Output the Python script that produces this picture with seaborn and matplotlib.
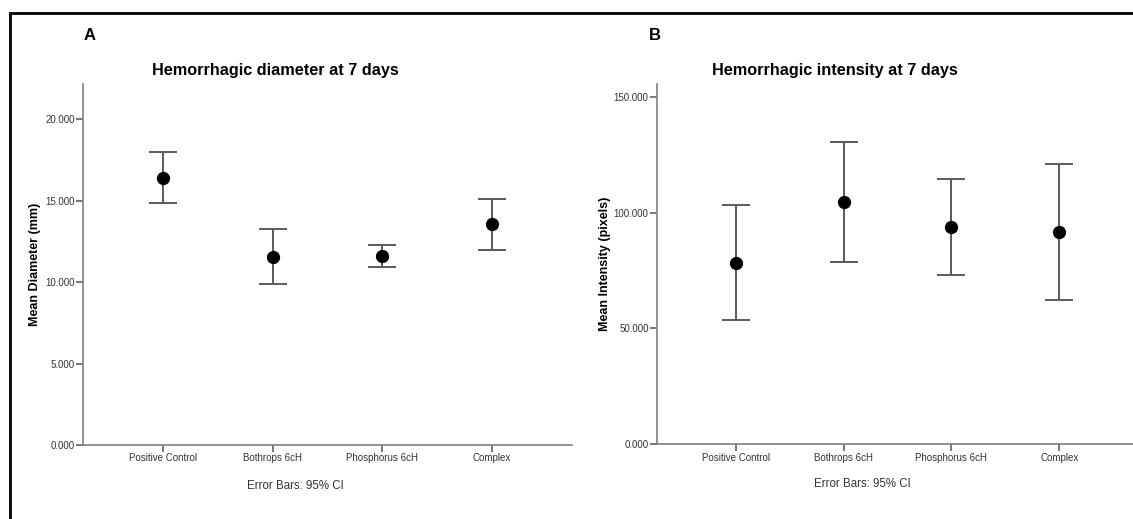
import matplotlib
matplotlib.use("Agg")
import matplotlib.pyplot as plt
from matplotlib.patches import Rectangle
import seaborn as sns
import numpy as np

# --- Data ---
groups = ["Positive Control", "Bothrops 6cH", "Phosphorus 6cH", "Complex"]

diameter_mean = [16.41, 11.53, 11.59, 13.54]
diameter_low = [14.85, 9.85, 10.91, 11.96]
diameter_high = [17.98, 13.23, 12.26, 15.12]

intensity_mean = [78.4, 104.4, 93.8, 91.6]
intensity_low = [53.6, 78.5, 73.2, 62.3]
intensity_high = [103.2, 130.3, 114.4, 121.0]

diameter_ticks = [0, 5, 10, 15, 20]
intensity_ticks = [0, 50, 100, 150]

sns.set_style("white")
plt.rcParams["font.family"] = ["Liberation Sans", "DejaVu Sans"]
plt.rcParams["text.color"] = "black"
plt.rcParams["axes.labelcolor"] = "black"

AXIS_GRAY = "#7f7f7f"
TEXT_GRAY = "#333333"


def draw_panel(ax, means, low, high, ticks, ymax, ylabel, label_x):
    """Mean with 95% CI error bars, SPSS style."""
    x = np.arange(len(groups))
    means = np.array(means)
    yerr = [means - np.array(low), np.array(high) - means]
    ax.errorbar(x, means, yerr=yerr, fmt="none", ecolor="#5a5a5a",
                elinewidth=1.4, capsize=10, capthick=1.4, zorder=2)
    sns.pointplot(x=groups, y=means, ax=ax, color="black", linestyle="none",
                  marker="o", markersize=7.5, errorbar=None, zorder=3)
    ax.set_xlim(-0.73, len(groups) - 1 + 0.73)
    ax.set_ylim(0, ymax)
    ax.set_yticks(ticks)
    ax.set_yticklabels([f"{t:.3f}" for t in ticks], fontsize=7, color=TEXT_GRAY)
    ax.set_xticks(x)
    ax.set_xticklabels(groups, fontsize=7, color=TEXT_GRAY)
    ax.set_xlabel("")
    ax.set_ylabel(ylabel, fontsize=9, fontweight="bold")
    ax.yaxis.set_label_coords(label_x, 0.5)
    for side in ["top", "right"]:
        ax.spines[side].set_visible(False)
    for side in ["left", "bottom"]:
        ax.spines[side].set_color(AXIS_GRAY)
        ax.spines[side].set_linewidth(1.2)
    ax.tick_params(axis="both", direction="out", length=5, width=1.1,
                   color="#555555", pad=1, left=True, bottom=True)
    ax.grid(False)


fig = plt.figure(figsize=(11.33, 5.19), dpi=100)
W, H = 1133, 519

ax_a = fig.add_axes([83 / W, (H - 445) / H, (572 - 83) / W, 361 / H])
ax_b = fig.add_axes([657 / W, (H - 444.3) / H, (1138 - 657) / W, 360.3 / H])

draw_panel(ax_a, diameter_mean, diameter_low, diameter_high,
           diameter_ticks, 22.15, "Mean Diameter (mm)", -0.086)
draw_panel(ax_b, intensity_mean, intensity_low, intensity_high,
           intensity_ticks, 155.5, "Mean Intensity (pixels)", -0.095)

# titles, panel letters, footnotes
fig.text(275 / W, 1 - 70 / H, "Hemorrhagic diameter at 7 days", ha="center",
         va="center", fontsize=11.7, fontweight="bold")
fig.text(835 / W, 1 - 70 / H, "Hemorrhagic intensity at 7 days", ha="center",
         va="center", fontsize=11.7, fontweight="bold")
fig.text(84 / W, 1 - 36 / H, "A", ha="left", va="center", fontsize=12,
         fontweight="bold")
fig.text(649 / W, 1 - 36 / H, "B", ha="left", va="center", fontsize=12,
         fontweight="bold")
fig.text(295 / W, 1 - 486 / H, "Error Bars: 95% CI", ha="center", va="center",
         fontsize=8.3, color=TEXT_GRAY)
fig.text(862 / W, 1 - 484 / H, "Error Bars: 95% CI", ha="center", va="center",
         fontsize=8.3, color=TEXT_GRAY)

# outer frame around the figure
fig.add_artist(Rectangle((10 / W, -0.02), 1.05, 1 - 13 / H + 0.02,
                         transform=fig.transFigure, fill=False,
                         edgecolor="black", linewidth=2))

fig.savefig("out.png", dpi=100)
